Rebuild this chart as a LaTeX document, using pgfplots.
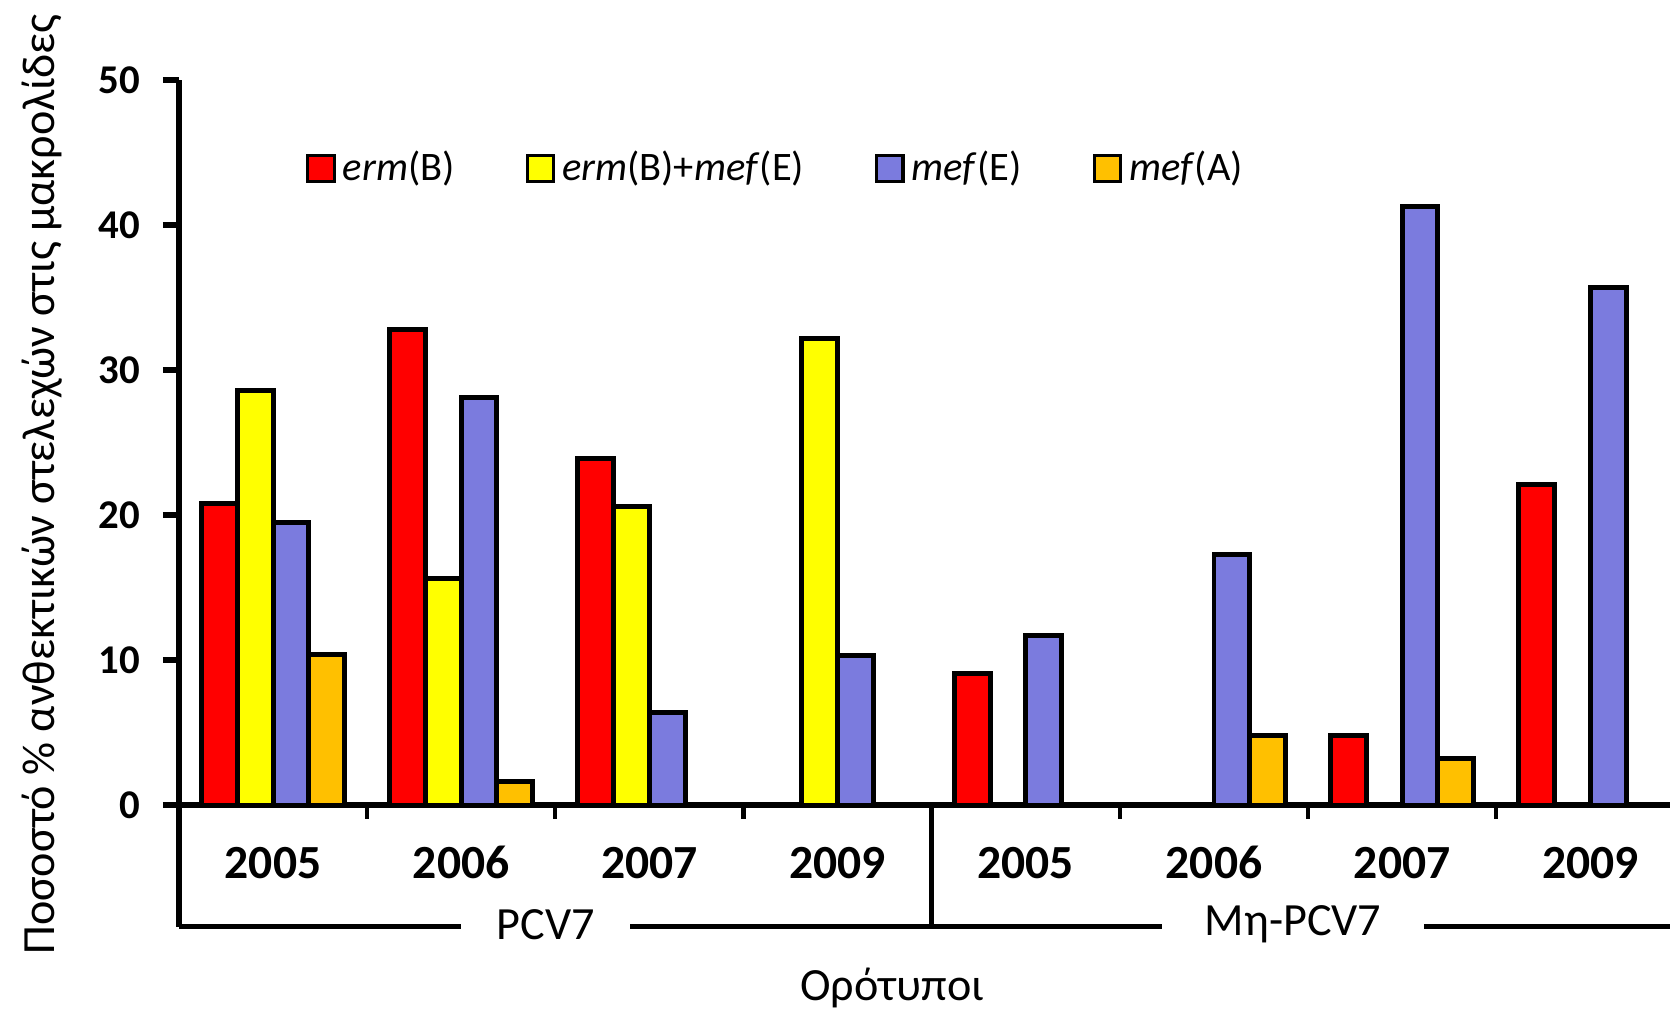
\documentclass[border=0pt]{standalone}
\usepackage{fontspec}
\setmainfont{Carlito}
\usepackage{pgfplots}
\pgfplotsset{compat=1.18}
\definecolor{cRed}{RGB}{255,0,0}
\definecolor{cYel}{RGB}{255,255,0}
\definecolor{cBlu}{RGB}{123,123,222}
\definecolor{cOra}{RGB}{255,192,0}
\pgfplotsset{mylegend/.style={legend image code/.code={\draw[##1,line width=0.9pt] (0pt,-3.7pt) rectangle (7.4pt,3.7pt);}}}
\tikzset{yr/.style={font=\bfseries\fontsize{13.4}{15}\selectfont}}
\begin{document}
\begin{tikzpicture}
\begin{axis}[
  name=ax,
  scale only axis, width=420pt, height=204.3pt,
  xmin=-0.5, xmax=7.423, ymin=0, ymax=50,
  axis lines=left,
  axis line style={line width=1.5pt,-},
  ytick={0,10,...,50}, xtick=\empty,
  ytick style={line width=1.5pt,black},
  tick align=outside, major tick length=4.5pt,
  yticklabel style={font=\bfseries\fontsize{11.5}{12}\selectfont, xshift=-3pt},
  /pgf/number format/assume math mode=true,
  ybar, bar width=0.19,
  clip=false,
  legend columns=4,
  legend style={at={(axis cs:0.173,43.9)}, anchor=west, draw=none, fill=none,
    inner sep=0pt, font=\fontsize{11.4}{12}\selectfont,
    /tikz/every even column/.append style={column sep=18pt}},
]
\addplot[fill=cRed, draw=black, line width=1.4pt, bar shift=-0.285, mylegend]
  coordinates {(0,20.8) (1,32.8) (2,23.9) (4,9.1) (6,4.8) (7,22.1)};
\addlegendentry{\textit{erm}(B)}
\addplot[fill=cYel, draw=black, line width=1.4pt, bar shift=-0.095, mylegend]
  coordinates {(0,28.6) (1,15.6) (2,20.6) (3,32.2)};
\addlegendentry{\textit{erm}(B)+\textit{mef}(E)}
\addplot[fill=cBlu, draw=black, line width=1.4pt, bar shift=0.095, mylegend]
  coordinates {(0,19.5) (1,28.1) (2,6.4) (3,10.3) (4,11.7) (5,17.3) (6,41.3) (7,35.7)};
\addlegendentry{\textit{mef}(E)}
\addplot[fill=cOra, draw=black, line width=1.4pt, bar shift=0.285, mylegend]
  coordinates {(0,10.4) (1,1.6) (5,4.8) (6,3.2)};
\addlegendentry{\textit{mef}(A)}

% category axis decorations
\pgfplotsinvokeforeach{0.5,1.5,2.5,4.5,5.5,6.5}{
  \draw[line width=1.2pt] (axis cs:#1,0) -- ([yshift=-4pt]axis cs:#1,0);
}
\draw[line width=1.5pt] (axis cs:-0.5,0) -- ([yshift=-34.2pt]axis cs:-0.5,0);
\draw[line width=1.3pt] (axis cs:3.5,0) -- ([yshift=-34.2pt]axis cs:3.5,0);
\draw[line width=1.4pt] ([yshift=-34.2pt]axis cs:-0.5,0) -- ([yshift=-34.2pt]axis cs:7.6,0);
\node[yr] at ([yshift=-16.2pt]axis cs:0,0) {2005};
\node[yr] at ([yshift=-16.2pt]axis cs:1,0) {2006};
\node[yr] at ([yshift=-16.2pt]axis cs:2,0) {2007};
\node[yr] at ([yshift=-16.2pt]axis cs:3,0) {2009};
\node[yr] at ([yshift=-16.2pt]axis cs:4,0) {2005};
\node[yr] at ([yshift=-16.2pt]axis cs:5,0) {2006};
\node[yr] at ([yshift=-16.2pt]axis cs:6,0) {2007};
\node[yr] at ([yshift=-16.2pt]axis cs:7,0) {2009};
\node[fill=white, inner xsep=10pt, inner ysep=1pt, font=\fontsize{13}{15}\selectfont] at ([yshift=-33.6pt]axis cs:1.45,0) {PCV7};
\node[fill=white, inner xsep=12pt, inner ysep=1pt, font=\fontsize{13}{15}\selectfont] at ([yshift=-33.6pt]axis cs:5.42,0) {Μη-PCV7};
\node[font=\fontsize{13}{15}\selectfont] at ([yshift=-51.6pt]axis cs:3.29,0) {Ορότυποι};
\end{axis}
\node[rotate=90, font=\fontsize{13}{15}\selectfont] at ([shift={(-38.4pt,90.3pt)}]ax.south west) {Ποσοστό \% ανθεκτικών στελεχών στις μακρολίδες};
\pgfresetboundingbox
\path[use as bounding box] ([shift={(-50.4pt,-58.5pt)}]ax.south west) rectangle ([shift={(0pt,22.5pt)}]ax.north east);
\end{tikzpicture}
\end{document}
